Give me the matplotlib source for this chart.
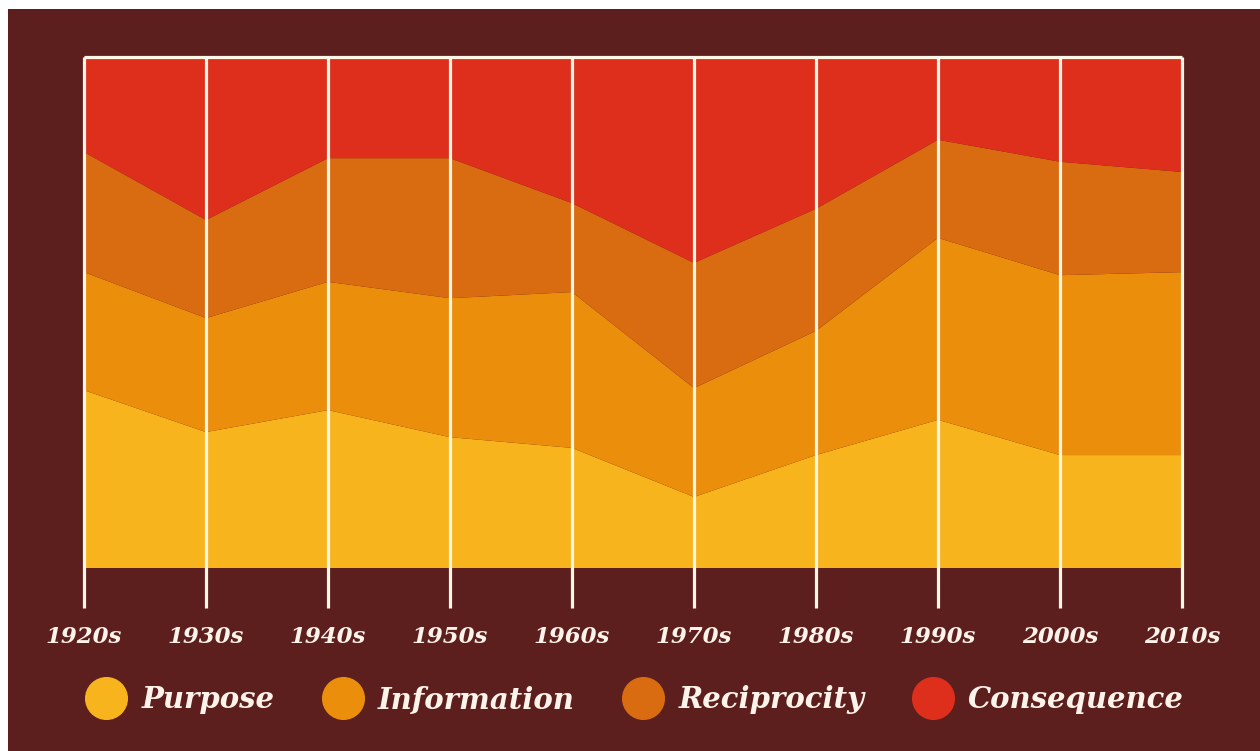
import matplotlib.pyplot as plt
from matplotlib.lines import Line2D
from matplotlib.patches import Rectangle
import numpy as np

# decades along the bottom
decades = ["1920s", "1930s", "1940s", "1950s", "1960s", "1970s", "1980s", "1990s", "2000s", "2010s"]

# share of each category (percent)
purpose = [34.8, 26.6, 30.9, 25.6, 23.5, 13.9, 22.1, 29.0, 22.1, 22.1]
information = [23.1, 22.3, 25.1, 27.2, 30.5, 21.3, 24.3, 35.6, 35.2, 35.8]
reciprocity = [23.5, 19.2, 24.2, 27.4, 17.4, 24.5, 23.9, 19.2, 22.2, 19.6]
consequence = [18.6, 31.9, 19.8, 19.8, 28.6, 40.3, 29.7, 16.2, 20.5, 22.5]

series_names = ["Purpose", "Information", "Reciprocity", "Consequence"]
colors = ["#F8B41C", "#EB8E0B", "#D96B10", "#DE2F1C"]

bg = "#5C1F1E"
line_col = "#FFF6E6"
text_col = "#FFF3EA"

fig = plt.figure(figsize=(12.6, 7.51), dpi=100, facecolor="white")
# dark panel, leaving a thin white strip top and left like the original
fig.patches.append(Rectangle((8 / 1260, 0), 1, 1 - 9 / 751, transform=fig.transFigure,
                             facecolor=bg, edgecolor="none", zorder=-10))

ax = fig.add_axes([84 / 1260, (751 - 568) / 751, (1182 - 84) / 1260, (568 - 57) / 751])
ax.set_facecolor(bg)

x = np.arange(len(decades))
ax.stackplot(x, purpose, information, reciprocity, consequence, colors=colors, linewidth=0)

ax.set_xlim(0, len(decades) - 1)
ax.set_ylim(0, 100)

# white vertical lines, poking out below the areas
ax.vlines(x, -7.8, 100, color=line_col, linewidth=2.3, clip_on=False, zorder=5)
ax.hlines(100, 0, len(decades) - 1, color=line_col, linewidth=2.3, clip_on=False, zorder=5)

for s in ax.spines.values():
    s.set_visible(False)
ax.set_yticks([])
ax.set_xticks(x)
ax.set_xticklabels(decades, fontsize=16.5, fontweight="bold", fontstyle="italic",
                   family="DejaVu Serif", color=text_col)
ax.tick_params(axis="x", length=0, pad=42)

# legend with big dots
handles = [Line2D([0], [0], marker="o", color="none", markerfacecolor=c, markeredgecolor="none",
                  markersize=31, label=n) for n, c in zip(series_names, colors)]
leg = fig.legend(handles=handles, loc="center", bbox_to_anchor=(634 / 1260, 51 / 751), ncol=4,
                 frameon=False, handlelength=1.5, handletextpad=0.45, columnspacing=1.6,
                 prop={"family": "DejaVu Serif", "weight": "bold", "style": "italic", "size": 21})
for t in leg.get_texts():
    t.set_color(text_col)

fig.savefig("out.png", dpi=100, facecolor=fig.get_facecolor())
